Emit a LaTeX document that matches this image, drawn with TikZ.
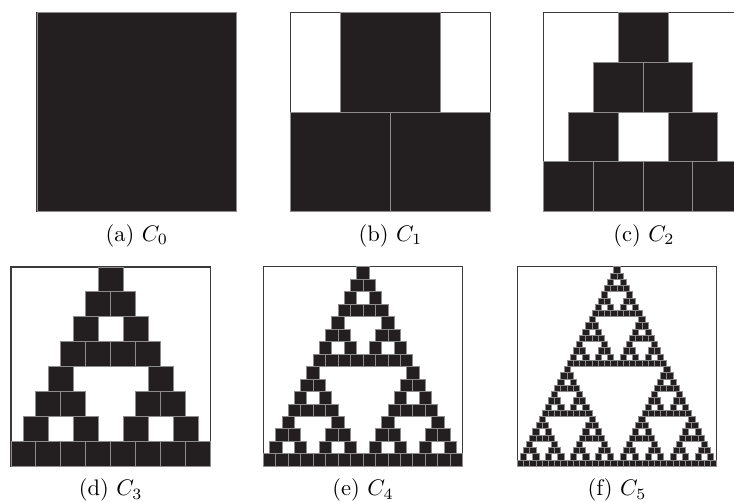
\documentclass[tikz,border=0pt]{standalone}
\definecolor{sqfill}{HTML}{231F20}
\definecolor{sqedge}{HTML}{8C8C8C}
\definecolor{framecol}{HTML}{3A3A3A}
\tikzset{
  sqr/.style={fill=sqfill, draw=sqedge, line width=0.9pt},
  framebox/.style={draw=framecol, line width=1.2pt},
  lab/.style={anchor=base, scale=2.25, inner sep=0pt}
}
% recursive construction: level, x, y (top, downward), size
\newcommand\sierp[4]{%
  \ifnum#1=0\relax
    \draw[sqr] (#2,#3) rectangle ++(#4,#4);%
  \else
    \begingroup
      \pgfmathsetmacro\sierH{#4/2}%
      \pgfmathsetmacro\sierXM{#2+#4/4}%
      \pgfmathsetmacro\sierXR{#2+#4/2}%
      \pgfmathsetmacro\sierYB{#3+#4/2}%
      \pgfmathtruncatemacro\sierL{#1-1}%
      \edef\sierNext{\noexpand\sierp{\sierL}{#2}{\sierYB}{\sierH}%
        \noexpand\sierp{\sierL}{\sierXR}{\sierYB}{\sierH}%
        \noexpand\sierp{\sierL}{\sierXM}{#3}{\sierH}}%
    \expandafter\endgroup\sierNext
  \fi}
\newcommand\panel[3]{% level, x, y
  \draw[framebox] (#2,#3) rectangle ++(199.5,199.5);
  \sierp{#1}{#2}{#3}{199.5}%
}
\begin{document}
\begin{tikzpicture}[x=1pt,y=-1pt]
\useasboundingbox (0,0) rectangle (734,502);
\clip (0,0) rectangle (734,502);
\panel{0}{37}{12.3}
\panel{1}{290.7}{12.3}
\panel{2}{543.3}{12.3}
\panel{3}{11}{267}
\panel{4}{263.3}{266.8}
\panel{5}{517.3}{266.8}
\node[lab] (la) at (136.75,241.5) {(a)~$C_0$};
\node[lab] (lb) at (390.45,241.5) {(b)~$C_1$};
\node[lab] (lc) at (644,241.5) {(c)~$C_2$};
\node[lab] (ld) at (110.75,496) {(d)~$C_3$};
\node[lab] (le) at (363.05,496) {(e)~$C_4$};
\node[lab] (lf) at (617.05,496) {(f)~$C_5$};
\end{tikzpicture}
\end{document}
